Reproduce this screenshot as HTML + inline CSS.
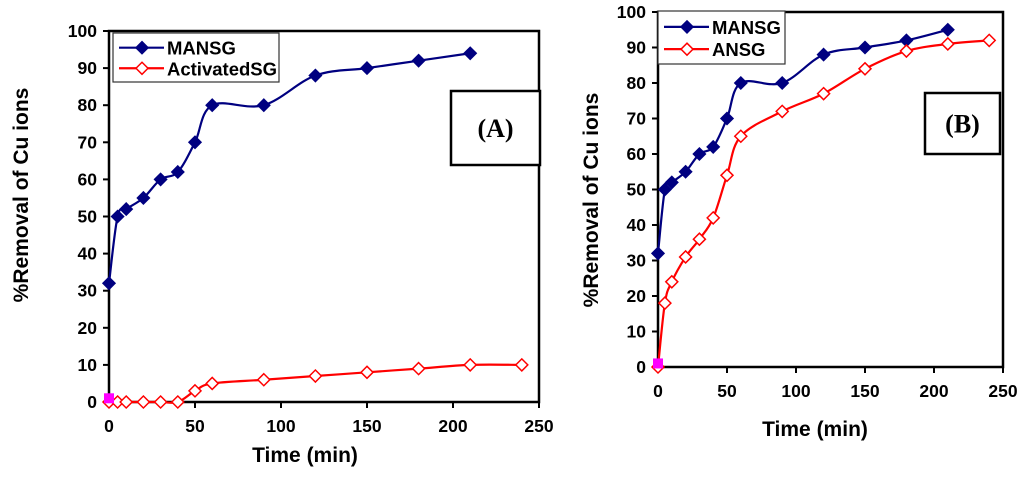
<!DOCTYPE html>
<html><head><meta charset="utf-8"><style>
body{margin:0;background:#fff;}
svg text{font-family:"Liberation Sans",Arial,sans-serif;font-weight:bold;}
svg text.serif{font-family:"Liberation Serif",serif;}
</style></head><body>
<svg id="s" width="1024" height="473" viewBox="0 0 1024 473" xmlns="http://www.w3.org/2000/svg"></svg>
<script>
const timesA = [0,5,10,20,30,40,50,60,90,120,150,180,210];
const mansgA = [32,50,52,55,60,62,70,80,80,88,90,92,94];
const timesA2 = [0,5,10,20,30,40,50,60,90,120,150,180,210,240];
const activatedA = [0,0,0,0,0,0,3,5,6,7,8,9,10,10];
const timesB = [0,5,10,20,30,40,50,60,90,120,150,180,210];
const mansgB = [32,50,52,55,60,62,70,80,80,88,90,92,95];
const timesB2 = [0,5,10,20,30,40,50,60,90,120,150,180,210,240];
const ansgB = [0,18,24,31,36,42,54,65,72,77,84,89,91,92];
const yTicks = [0,10,20,30,40,50,60,70,80,90,100];
const xTicks = [0,50,100,150,200,250];

const NS="http://www.w3.org/2000/svg";
const svg=document.getElementById('s');
function mk(tag,attrs,parent){const e=document.createElementNS(NS,tag);for(const k in attrs)e.setAttribute(k,attrs[k]);(parent||svg).appendChild(e);return e;}
function smooth(pts){let d=`M${pts[0][0]},${pts[0][1]}`;for(let i=0;i<pts.length-1;i++){const p0=pts[Math.max(0,i-1)],p1=pts[i],p2=pts[i+1],p3=pts[Math.min(pts.length-1,i+2)];const t=0.17;d+=` C${p1[0]+(p2[0]-p0[0])*t},${p1[1]+(p2[1]-p0[1])*t} ${p2[0]-(p3[0]-p1[0])*t},${p2[1]-(p3[1]-p1[1])*t} ${p2[0]},${p2[1]}`;}return d;}

function chart(cfg){
  const g=mk('g',{});
  
  
  const X=v=>cfg.x0+(v/250)*(cfg.x1-cfg.x0);
  const Y=v=>cfg.y0-(v/100)*(cfg.y0-cfg.y1);
  const f=mk('rect',{x:cfg.x0,y:cfg.y1,width:cfg.x1-cfg.x0,height:cfg.y0-cfg.y1,fill:'none',stroke:'#000','stroke-width':2.5},g);
  
  yTicks.forEach(v=>{
    mk('line',{x1:cfg.x0-6,x2:cfg.x0,y1:Y(v),y2:Y(v),stroke:'#000','stroke-width':2},g);
    const t=mk('text',{x:cfg.x0-12,y:Y(v)+6,'text-anchor':'end','font-size':17.5},g);t.textContent=v;
    
  });
  xTicks.forEach(v=>{
    mk('line',{x1:X(v),x2:X(v),y1:cfg.y0,y2:cfg.y0+6,stroke:'#000','stroke-width':2},g);
    const t=mk('text',{x:X(v),y:cfg.y0+30,'text-anchor':'middle','font-size':17.5},g);t.textContent=v;
    
  });
  const yl=mk('text',{x:0,y:0,'text-anchor':'middle','font-size':21,transform:`translate(${cfg.ylx},${cfg.yly}) rotate(-90)`},g);yl.textContent='%Removal of Cu ions';
  
  const xl=mk('text',{x:cfg.xlx,y:cfg.xly,'text-anchor':'middle','font-size':21},g);xl.textContent='Time (min)';
  
  cfg.series.forEach(s=>{
    const pts=s.t.map((t,i)=>[X(t),Y(s.v[i])]);
    const p=mk('path',{d:smooth(pts),fill:'none',stroke:s.c,'stroke-width':2.2},g);
    
    pts.forEach(q=>{
      const m=mk('polygon',{points:`${q[0]},${q[1]-6} ${q[0]+6},${q[1]} ${q[0]},${q[1]+6} ${q[0]-6},${q[1]}`,fill:s.fill?s.c:'#fff',stroke:s.c,'stroke-width':1.5},g);
      
    });
  });
  const pk=mk('rect',{x:X(0)-5,y:Y(1)-5,width:10,height:10,fill:'#ff00ff'},g);
  
  const L=cfg.leg;
  const lb=mk('rect',{x:L.x,y:L.y,width:L.w,height:L.h,fill:'#fff',stroke:'#333','stroke-width':1.2},g);
  
  cfg.series.forEach((s,i)=>{
    const yy=L.y+L.h*(i===0?0.3:0.72);
    mk('line',{x1:L.x+6,x2:L.x+51,y1:yy,y2:yy,stroke:s.c,'stroke-width':2.2},g);
    const cx=L.x+29;
    mk('polygon',{points:`${cx},${yy-6} ${cx+6},${yy} ${cx},${yy+6} ${cx-6},${yy}`,fill:s.fill?s.c:'#fff',stroke:s.c,'stroke-width':1.5},g);
    const t=mk('text',{x:L.x+54,y:yy+7,'font-size':18.5},g);t.textContent=s.label;
    
  });
  const B=cfg.box;
  mk('rect',{x:B.x,y:B.y,width:B.w,height:B.h,fill:'#fff',stroke:'#000','stroke-width':2.5},g);
  const bt=mk('text',{x:B.x+B.w/2,y:B.y+B.h/2+9,'text-anchor':'middle','font-size':26,class:'serif'},g);bt.textContent=B.label;
  
}
chart({name:'chart-a',x0:109,x1:539,y0:402,y1:31,ylx:28,yly:195,xlx:305,xly:462,
  leg:{x:113,y:33,w:166,h:49},box:{x:451,y:91,w:89,h:74,label:'(A)'},
  series:[{name:'mansg-a',label:'MANSG',t:timesA,v:mansgA,c:'#000080',fill:true},
          {name:'activatedsg-a',label:'ActivatedSG',t:timesA2,v:activatedA,c:'#ff0000',fill:false}]});
chart({name:'chart-b',x0:658,x1:1003,y0:367,y1:12,ylx:598,yly:200,xlx:815,xly:436,
  leg:{x:658,y:11,w:127,h:53},box:{x:925,y:93,w:75,h:61,label:'(B)'},
  series:[{name:'mansg-b',label:'MANSG',t:timesB,v:mansgB,c:'#000080',fill:true},
          {name:'ansg-b',label:'ANSG',t:timesB2,v:ansgB,c:'#ff0000',fill:false}]});
</script>
</body></html>
